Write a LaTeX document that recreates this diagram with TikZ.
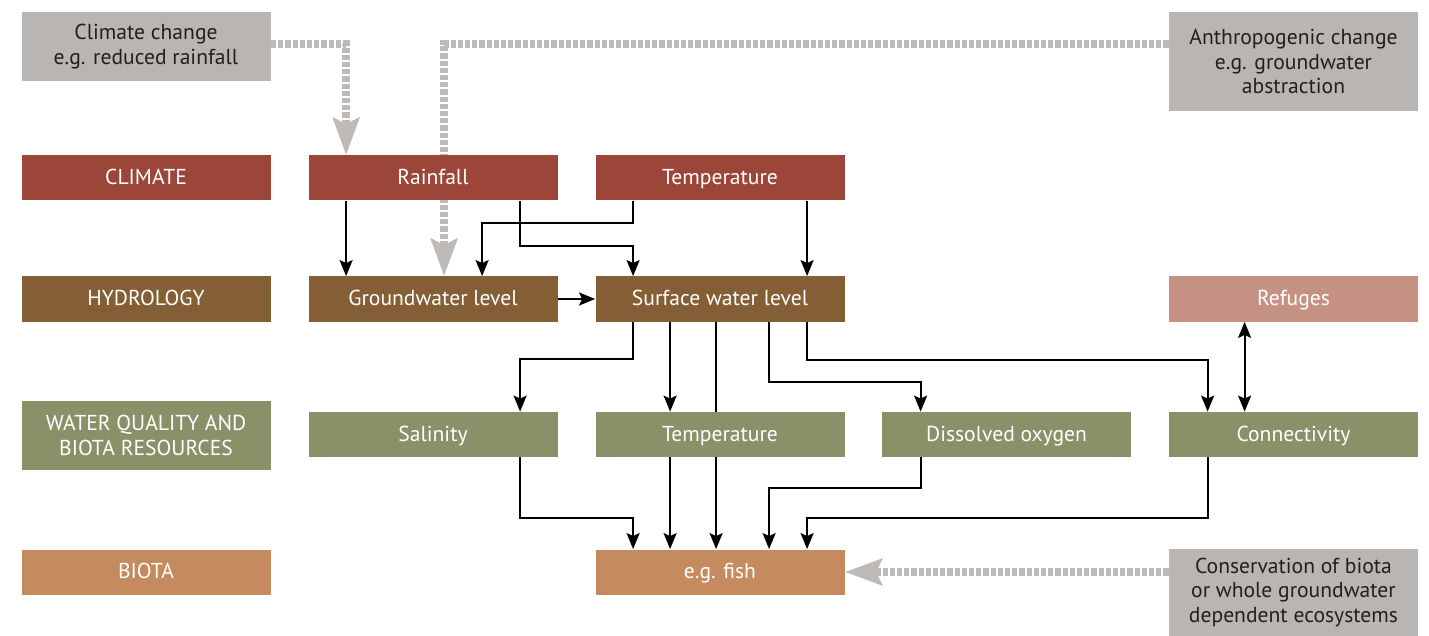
\documentclass[tikz,border=0pt]{standalone}
\usepackage{fontspec}
\setmainfont{PT Sans}
\usetikzlibrary{calc}
\usetikzlibrary{arrows}
\usetikzlibrary{arrows.meta}
\usetikzlibrary{backgrounds}
\definecolor{climred}{HTML}{9B4639}
\definecolor{hydbrown}{HTML}{845F35}
\definecolor{wqgreen}{HTML}{8C9069}
\definecolor{biotan}{HTML}{C58A5E}
\definecolor{refpink}{HTML}{C59183}
\definecolor{boxgray}{HTML}{B9B5B3}
\definecolor{dashgray}{HTML}{BDBAB8}
\definecolor{txtdark}{HTML}{231F20}

\begin{document}
\begin{tikzpicture}[x=.5pt, y=-.5pt,
  box/.style={minimum width=124.5pt, minimum height=22.5pt, inner sep=0, text=white, align=center, text height=8pt, text depth=1.5pt, font=\fontsize{10.8}{12.25}\selectfont},
  multi/.style={text height=, text depth=},
  driver/.style={box, multi, fill=boxgray, text=txtdark},
  arr/.style={line width=1pt, ->, >={Stealth[length=8pt, width=6.5pt, inset=1.5pt]}},
  gdash/.style={dashgray, line width=4pt, dash pattern=on 2.6pt off 1pt, -{Stealth[length=18.5pt, width=13pt, inset=3pt]}}]
\useasboundingbox (0,0) rectangle (1429,636);
% drivers
\node[driver, minimum height=34.5pt] (clichange) at (146,46.5) {Climate change\\e.g. reduced rainfall};
\node[driver, minimum height=49.5pt] (anthchange) at (1293.5,61.5) {Anthropogenic change\\e.g. groundwater\\abstraction};
\node[driver, minimum height=43.5pt] (conserv) at (1293.5,592.5) {Conservation of biota\\or whole groundwater\\dependent ecosystems};
% row labels
\node[box, fill=climred] (climate) at (146,178) {CLIMATE};
\node[box, fill=hydbrown] (hydro) at (146,299) {HYDROLOGY};
\node[box, multi, fill=wqgreen, minimum height=34.5pt] (wq) at (146,435.5) {WATER QUALITY AND\\BIOTA RESOURCES};
\node[box, fill=biotan] (biota) at (146,572) {BIOTA};
% climate
\node[box, fill=climred] (rain) at (433,178) {Rainfall};
\node[box, fill=climred] (airtemp) at (720,178) {Temperature};
% hydrology
\node[box, fill=hydbrown] (gw) at (433,299) {Groundwater level};
\node[box, fill=hydbrown] (sw) at (720,299) {Surface water level};
\node[box, fill=refpink] (refuges) at (1293.5,299) {Refuges};
% water quality
\node[box, fill=wqgreen] (sal) at (433,434.5) {Salinity};
\node[box, fill=wqgreen] (wtemp) at (720,434.5) {Temperature};
\node[box, fill=wqgreen] (dox) at (1006.5,434.5) {Dissolved oxygen};
\node[box, fill=wqgreen] (conn) at (1293.5,434.5) {Connectivity};
% biota
\node[box, fill=biotan] (fish) at (720,572) {e.g. fish};

\begin{scope}[on background layer]
% pressures
\draw[gdash] ($(clichange.north east)+(0,32)$) -| ($(rain.north west)+(38,0)$);
\draw[gdash] ($(anthchange.north west)+(0,32)$) -| ($(gw.north west)+(136,0)$);
\draw[gdash] (conserv.west |- fish.east) -- (fish.east);
% climate -> hydrology
\draw[arr] ($(rain.south west)+(38,0)$) -- ($(gw.north west)+(38,0)$);
\draw[arr] ($(rain.south west)+(212,0)$) -- ++(0,45) -| ($(sw.north west)+(38,0)$);
\draw[arr] ($(airtemp.south west)+(38,0)$) -- ++(0,22) -| ($(gw.north west)+(174,0)$);
\draw[arr] ($(airtemp.south west)+(212,0)$) -- ($(sw.north west)+(212,0)$);
\draw[arr] (gw) -- (sw);
% hydrology -> water quality
\draw[arr] ($(sw.south west)+(38,0)$) -- ++(0,37) -| ($(sal.north west)+(212,0)$);
\draw[arr] ($(sw.south west)+(75,0)$) -- ($(wtemp.north west)+(75,0)$);
\draw[arr] ($(sw.south west)+(121,0)$) -- ($(fish.north west)+(121,0)$);
\draw[arr] ($(sw.south west)+(174,0)$) -- ++(0,60) -| ($(dox.north west)+(39,0)$);
\draw[arr] ($(sw.south west)+(212,0)$) -- ++(0,38) -| ($(conn.north west)+(39,0)$);
\draw[arr, <->] ($(refuges.south west)+(76,0)$) -- ($(conn.north west)+(76,0)$);
% water quality -> biota
\draw[arr] ($(sal.south west)+(212,0)$) -- ++(0,61) -| ($(fish.north west)+(38,0)$);
\draw[arr] ($(wtemp.south west)+(75,0)$) -- ($(fish.north west)+(75,0)$);
\draw[arr] ($(dox.south west)+(39,0)$) -- ++(0,31) -| ($(fish.north west)+(174,0)$);
\draw[arr] ($(conn.south west)+(39,0)$) -- ++(0,61) -| ($(fish.north west)+(212,0)$);
\end{scope}
\end{tikzpicture}
\end{document}
